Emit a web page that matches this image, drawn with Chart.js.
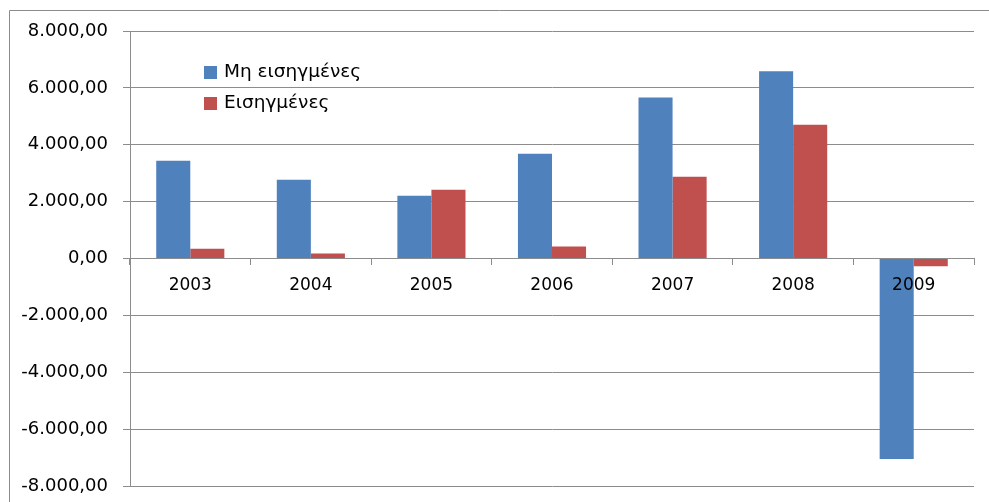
<!DOCTYPE html>
<html>
<head>
<meta charset="utf-8">
<script src="https://cdn.jsdelivr.net/npm/chart.js@4.4.0/dist/chart.umd.min.js"></script>
<style>
  html, body { margin: 0; padding: 0; background: #fff; }
</style>
</head>
<body>
<canvas id="chartMetoxes" width="989" height="502"></canvas>
<script>
// data
const years = ['2003', '2004', '2005', '2006', '2007', '2008', '2009'];
const miEisigmenes = [3435, 2770, 2205, 3685, 5660, 6585, -7050];
const eisigmenes = [340, 175, 2415, 420, 2875, 4705, -270];
const seriesNames = ['Μη εισηγμένες', 'Εισηγμένες'];
const seriesColors = ['#4F81BD', '#C0504D'];
const yMin = -8000;
const yMax = 8000;
const yStep = 2000;

const gridGrey = '#8c8c8c';
const fontFamily = '"DejaVu Sans", Verdana, sans-serif';

// 8000 -> "8.000,00"
function grNumber(v) {
  const sign = v < 0 ? '-' : '';
  const whole = Math.abs(Math.round(v)).toString().replace(/\B(?=(\d{3})+(?!\d))/g, '.');
  return sign + whole + ',00';
}

// outer frame of the chart object (top and left edges)
const chartFrame = {
  id: 'chartFrame',
  beforeDraw(chart) {
    const ctx = chart.ctx;
    ctx.save();
    ctx.strokeStyle = gridGrey;
    ctx.lineWidth = 1;
    ctx.beginPath();
    ctx.moveTo(9.5, chart.height);
    ctx.lineTo(9.5, 10.5);
    ctx.lineTo(chart.width, 10.5);
    ctx.stroke();
    ctx.restore();
  }
};

// legend sitting inside the plot, top left
const insideLegend = {
  id: 'insideLegend',
  afterDatasetsDraw(chart) {
    const ctx = chart.ctx;
    const area = chart.chartArea;
    ctx.save();
    ctx.font = '18.5px ' + fontFamily;
    ctx.textBaseline = 'middle';
    chart.data.datasets.forEach((ds, i) => {
      const x = area.left + 74;
      const y = area.top + 41 + i * 31;
      ctx.fillStyle = ds.backgroundColor;
      ctx.fillRect(x, y - 6, 13, 13);
      ctx.fillStyle = '#000';
      ctx.fillText(ds.label, x + 20, y);
    });
    ctx.restore();
  }
};

const dataMetoxes = {
  labels: years,
  datasets: [
    {
      label: seriesNames[0],
      data: miEisigmenes,
      backgroundColor: seriesColors[0],
      categoryPercentage: 0.565,
      barPercentage: 1.0
    },
    {
      label: seriesNames[1],
      data: eisigmenes,
      backgroundColor: seriesColors[1],
      categoryPercentage: 0.565,
      barPercentage: 1.0
    }
  ]
};

const optionsMetoxes = {
  responsive: false,
  animation: false,
  devicePixelRatio: 1,
  layout: {
    padding: { left: 0, top: 31, right: 15, bottom: 16 }
  },
  plugins: {
    legend: { display: false },
    tooltip: { enabled: false }
  },
  scales: {
    x: {
      position: { y: 0 },
      // the axis sits on the zero line, so it takes no room at the bottom
      afterFit(scale) {
        scale.height = 0;
        scale.paddingBottom = 0;
        scale.paddingTop = 0;
      },
      grid: {
        offset: true,
        drawOnChartArea: false,
        drawTicks: true,
        tickLength: 6,
        color: gridGrey
      },
      border: { display: true, color: gridGrey },
      ticks: {
        z: 1,
        padding: 11,
        color: '#000',
        font: { family: fontFamily, size: 17 }
      }
    },
    y: {
      min: yMin,
      max: yMax,
      afterFit(scale) {
        scale.width = 130;
        scale.paddingBottom = 0;
      },
      grid: {
        color: gridGrey,
        tickLength: 7
      },
      border: { display: true, color: gridGrey },
      ticks: {
        stepSize: yStep,
        padding: 15,
        color: '#000',
        font: { family: fontFamily, size: 18 },
        callback: (v) => grNumber(v)
      }
    }
  }
};

new Chart('chartMetoxes', {
  type: 'bar',
  data: dataMetoxes,
  options: optionsMetoxes,
  plugins: [chartFrame, insideLegend]
});
</script>
</body>
</html>
